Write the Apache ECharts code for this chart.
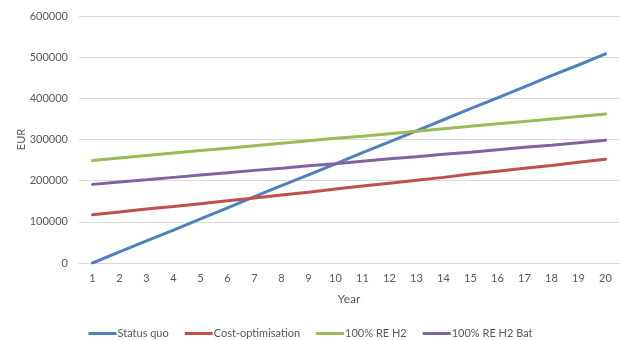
<!DOCTYPE html>
<html>
<head>
<meta charset="utf-8">
<script src="https://cdn.jsdelivr.net/npm/echarts@6/dist/echarts.min.js"></script>
<style>
  html, body { margin: 0; padding: 0; background: #fff; }
  #chart { width: 621px; height: 340px; }
</style>
</head>
<body>
<div id="chart"></div>
<script>
// Cumulative cost per scenario over the project lifetime (EUR)
const years = ['1','2','3','4','5','6','7','8','9','10','11','12','13','14','15','16','17','18','19','20'];
const statusQuo = [0, 27000, 54000, 80000, 107000, 134000, 161000, 188000, 214000, 241000, 268000, 294000, 321000, 348000, 375000, 401000, 428000, 455000, 481000, 508000];
const costOptimisation = [117000, 124000, 131000, 137000, 144000, 151000, 158000, 165000, 172000, 180000, 187000, 194000, 201000, 208000, 216000, 223000, 230000, 237000, 245000, 252000];
const reH2 = [249000, 255000, 261000, 267000, 273000, 279000, 285000, 291000, 297000, 303000, 308000, 314000, 320000, 326000, 332000, 338000, 344000, 350000, 356000, 362000];
const reH2Bat = [191000, 197000, 202000, 208000, 214000, 219000, 225000, 230000, 236000, 241000, 247000, 253000, 258000, 264000, 269000, 275000, 281000, 286000, 292000, 298000];
const seriesNames = ['Status quo', 'Cost-optimisation', '100% RE H2', '100% RE H2 Bat'];
const colors = ['#4F81BD', '#C0504D', '#9BBB59', '#8064A2'];

const font = 'Lato, "Open Sans", sans-serif';
const textColor = '#595959';

const chart = echarts.init(document.getElementById('chart'));
const dataSets = [statusQuo, costOptimisation, reH2, reH2Bat];

chart.setOption({
  animation: false,
  color: colors,
  grid: { left: 79, right: 2, top: 16, bottom: 77 },
  legend: {
    bottom: 1,
    left: 'center',
    padding: 0,
    itemWidth: 28,
    itemHeight: 3,
    icon: 'rect',
    itemGap: 16,
    textStyle: { color: textColor, fontSize: 11, fontFamily: font, padding: [0, 0, 0, -4] },
    data: seriesNames
  },
  xAxis: {
    type: 'category',
    data: years,
    boundaryGap: true,
    name: 'Year',
    nameLocation: 'middle',
    nameGap: 30,
    nameTextStyle: { color: textColor, fontSize: 12, fontFamily: font },
    axisLine: { lineStyle: { color: '#d9d9d9', width: 1 } },
    axisTick: { show: false },
    axisLabel: { color: textColor, fontSize: 11, fontFamily: font, margin: 10 }
  },
  yAxis: {
    type: 'value',
    min: 0,
    max: 600000,
    interval: 100000,
    name: 'EUR',
    nameLocation: 'middle',
    nameGap: 52,
    nameMoveOverlap: false,
    nameTextStyle: { color: textColor, fontSize: 11, fontFamily: font },
    axisLine: { show: false },
    axisTick: { show: false },
    axisLabel: { color: textColor, fontSize: 11, fontFamily: font, margin: 11, formatter: v => String(v) },
    splitLine: { lineStyle: { color: '#d9d9d9', width: 1 } }
  },
  series: dataSets.map((d, i) => ({
    name: seriesNames[i],
    type: 'line',
    data: d,
    symbol: 'none',
    lineStyle: { width: 3, color: colors[i], cap: 'round' },
    itemStyle: { color: colors[i] }
  }))
});
</script>
</body>
</html>
